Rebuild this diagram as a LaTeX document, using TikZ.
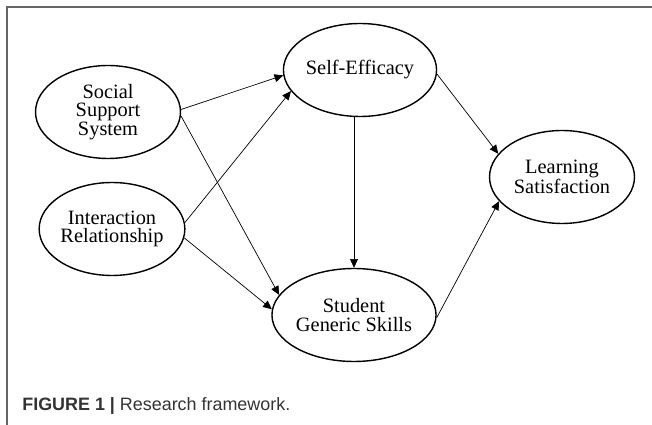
\documentclass[tikz,border=0pt]{standalone}
\usepackage{fontspec}
\setmainfont{Liberation Serif}
\setsansfont{Liberation Sans}
\usetikzlibrary{shapes.geometric,arrows.meta}

\tikzset{
  construct/.style={ellipse,draw,line width=0.8pt,minimum width=2.9cm,
    minimum height=1.86cm,inner sep=0pt,align=center,
    font=\fontsize{11.6}{10.6}\selectfont},
  path/.style={-{Triangle[length=5pt,width=4.5pt]},line width=0.4pt}
}

\begin{document}
\begin{tikzpicture}[x=0.02cm,y=-0.02cm]
  \useasboundingbox (0,0) rectangle (652,425);
  % frame, only top and left edges show
  \draw[gray!80!black,line width=0.8pt] (652,7) -- (7,7) -- (7,425);
  % constructs
  \node[construct] (sss) at (108,112) {Social\\Support\\System};
  \node[construct] (ir)  at (112,229) {Interaction\\Relationship};
  \node[construct] (se)  at (360,70)  {Self-Efficacy};
  \node[construct] (sgs) at (354,315) {Student\\Generic Skills};
  \node[construct] (ls)  at (562,177) {Learning\\Satisfaction};
  % hypothesised paths
  \draw[path] (sss.2)  -- (se.184);
  \draw[path] (sss.-3) -- (sgs.165);
  \draw[path] (ir.5)   -- (se.197);
  \draw[path] (ir.-7)  -- (sgs.176);
  \draw[path] (se.-3)  -- (ls.160);
  \draw[path] (se.south -| sgs.north) -- (sgs.north);
  \draw[path] (sgs.-2) -- (ls.201);
  % caption
  \node[anchor=base west,inner sep=0pt,text=black!80,
    font=\sffamily\fontsize{10.2}{12}\selectfont] (cap) at (22,410)
    {\textbf{FIGURE 1 |} Research framework.};
\end{tikzpicture}
\end{document}
